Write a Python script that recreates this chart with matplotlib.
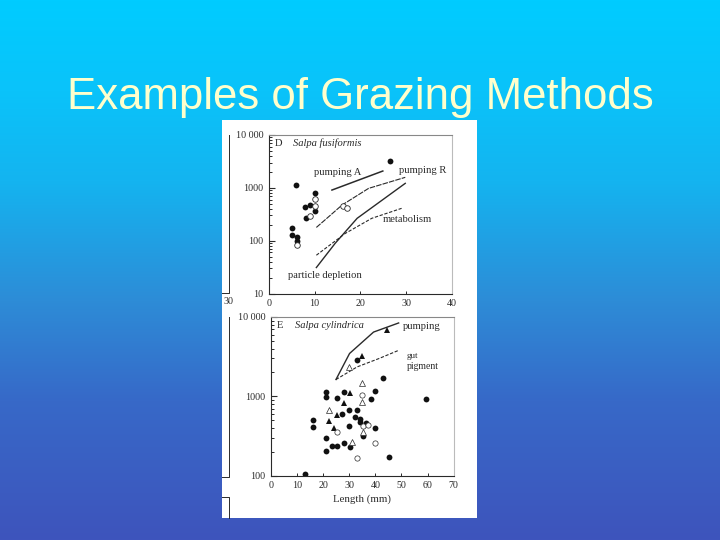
import numpy as np
import matplotlib
matplotlib.use('Agg')
import matplotlib.pyplot as plt
from matplotlib.patches import Rectangle

title_text = 'Examples of Grazing Methods'

# panel D - Salpa fusiformis
d_filled_x = [6, 26.4, 10.2, 8, 9, 10, 8.1, 5.1, 5, 6.2, 6.2]
d_filled_y = [1110, 3170, 785, 440, 472, 368, 268, 173, 127, 116, 100]
d_open_x = [6.2, 9.1, 10.2, 10.2, 16.2, 17.1]
d_open_y = [82, 288, 622, 452, 452, 409]
pump_a_x = [13.8, 24.9]
pump_a_y = [908, 2080]
pump_r_x = [10.4, 13.5, 16, 21.8, 29.8]
pump_r_y = [178, 305, 472, 977, 1580]
depletion_x = [10.4, 14.5, 19.3, 29.8]
depletion_y = [31, 89, 265, 1216]
metab_x = [10.4, 16.7, 22.5, 29]
metab_y = [53, 137, 265, 409]

# panel E - Salpa cylindrica
e_filled_x = [13.1, 16.1, 16.1, 20.9, 20.9, 20.9, 21.2, 23.4, 25.3, 25.3, 28, 29.9, 27.2, 33, 32.2,
              34.1, 34.2, 36.5, 30, 39.8, 35.4, 28.1, 30.3, 45.1, 33, 42.8, 39.8, 38.2, 59.5]
e_filled_y = [104, 501, 413, 1140, 985, 295, 202, 238, 238, 966, 1130, 676, 597, 676, 557,
              511, 478, 464, 421, 394, 318, 255, 227, 170, 2850, 1690, 1160, 920, 930]
e_tri_x = [44.3, 34.9, 30.1, 28, 25.2, 22.1, 24.3]
e_tri_y = [6790, 3200, 1090, 813, 575, 491, 394]
e_otri_x = [29.9, 35, 35, 22.1, 31.2, 35.4]
e_otri_y = [2350, 1480, 860, 682, 265, 357]
e_open_x = [35, 35.4, 37.2, 40, 33, 25.3]
e_open_y = [1050, 427, 430, 255, 168, 351]
pump_x = [24.9, 30.1, 39.3, 48.9]
pump_y = [1630, 3470, 6460, 8410]
gut_x = [24.9, 33, 41.3, 48.9]
gut_y = [1630, 2350, 2990, 3800]

W, H = 720, 540
INK = '#2a2a2a'


def px_axes(x0, y0, x1, y1, **kw):
    # pixel box, y measured from the top of the picture
    return fig.add_axes([x0 / W, 1 - y1 / H, (x1 - x0) / W, (y1 - y0) / H], **kw)


def style_panel(ax, xticks, yticks, ylabels):
    ax.set_yscale('log')
    ax.set_xticks(xticks)
    ax.set_yticks(yticks)
    ax.set_yticklabels(ylabels)
    ax.tick_params(axis='x', which='major', direction='in', length=2, width=0.7,
                   labelsize=7.2, colors=INK, pad=4)
    ax.tick_params(axis='y', which='major', direction='in', length=4, width=0.8,
                   labelsize=7.2, colors=INK, pad=4)
    ax.tick_params(axis='y', which='minor', direction='in', length=2.5, width=0.7, colors=INK)
    ax.minorticks_on()
    ax.tick_params(axis='x', which='minor', length=0)
    ax.patch.set_alpha(0)
    for s in ax.spines.values():
        s.set_linewidth(0.8)
        s.set_color(INK)
    ax.spines['top'].set_color('#888888')
    ax.spines['right'].set_color('#bbbbbb')
    for lab in ax.get_xticklabels() + ax.get_yticklabels():
        lab.set_family('Liberation Serif')


def serif(ax, x, y, s, size=7.6, **kw):
    ax.text(x, y, s, fontsize=size, family='Liberation Serif', color=INK, **kw)


fig = plt.figure(figsize=(W / 100, H / 100), dpi=100)

# blue gradient background
bg = px_axes(0, 0, W, H)
rows = np.arange(H)
stops = [0, 90, 180, 300, 400, 539]
red = [0, 10, 20, 45, 55, 62]
green = [204, 195, 180, 140, 105, 84]
blue = [255, 250, 240, 215, 200, 188]
grad = np.stack([np.interp(rows, stops, c) for c in (red, green, blue)], axis=1)[:, None, :] / 255
bg.imshow(grad, aspect='auto', extent=[0, W, H, 0])
bg.set_xlim(0, W)
bg.set_ylim(H, 0)
bg.axis('off')
bg.text(360, 97, title_text, ha='center', va='center', fontsize=31.5,
        family='Liberation Sans', color='#ffffcc')

# scanned page and the cut off panels at its left edge
bg.add_patch(Rectangle((222, 120), 255, 398, fc='white', ec='none'))
bg.plot([229, 229, 222], [135, 293, 293], color=INK, lw=0.7)
bg.plot([229, 229, 222], [317, 477, 477], color=INK, lw=0.7)
bg.plot([222, 229, 229], [497, 497, 518], color=INK, lw=0.7)
bg.text(228, 302, '30', ha='center', va='center', fontsize=7.2,
        family='Liberation Serif', color=INK)

# panel D
ax1 = px_axes(268.7, 135, 452, 293.5)
ax1.plot(pump_a_x, pump_a_y, color=INK, lw=1.1)
ax1.plot(pump_r_x, pump_r_y, color=INK, lw=0.8, ls=(0, (5, 1)))
ax1.plot(depletion_x, depletion_y, color=INK, lw=1.0)
ax1.plot(metab_x, metab_y, color=INK, lw=0.8, ls=(0, (3, 1.5)))
ax1.plot(d_filled_x, d_filled_y, 'o', color='#111111', ms=4.2, mew=0)
ax1.plot(d_open_x, d_open_y, 'o', mfc='white', mec=INK, ms=4, mew=0.6)
ax1.set_xlim(0, 40)
ax1.set_ylim(10, 10000)
style_panel(ax1, [0, 10, 20, 30, 40], [10, 100, 1000, 10000], ['10', '100', '1000', '10 000'])
serif(ax1, 1.3, 6300, 'D')
serif(ax1, 5.3, 6300, 'Salpa fusiformis', style='italic')
serif(ax1, 9.9, 1750, 'pumping A')
serif(ax1, 28.4, 1900, 'pumping R')
serif(ax1, 24.9, 225, 'metabolism')
serif(ax1, 4.2, 20, 'particle depletion')

# panel E
ax2 = px_axes(271, 317, 453.7, 475.7)
ax2.plot(pump_x, pump_y, color=INK, lw=1.0)
ax2.plot(gut_x, gut_y, color=INK, lw=0.8, ls=(0, (3, 1.5)))
ax2.plot(e_filled_x, e_filled_y, 'o', color='#111111', ms=4.2, mew=0)
ax2.plot(e_tri_x, e_tri_y, '^', color='#111111', ms=4.2, mew=0)
ax2.plot(e_otri_x, e_otri_y, '^', mfc='white', mec=INK, ms=4, mew=0.5)
ax2.plot(e_open_x, e_open_y, 'o', mfc='white', mec=INK, ms=3.8, mew=0.5)
ax2.set_xlim(0, 70)
ax2.set_ylim(100, 10000)
style_panel(ax2, list(range(0, 71, 10)), [100, 1000, 10000], ['100', '1000', '10 000'])
serif(ax2, 2.3, 7200, 'E')
serif(ax2, 9.3, 7200, 'Salpa cylindrica', style='italic')
serif(ax2, 50.5, 7000, 'pumping')
serif(ax2, 52, 3000, 'gut', size=6.6)
serif(ax2, 52, 2200, 'pigment', size=7)
ax2.set_xlabel('Length (mm)', fontsize=7.8, family='Liberation Serif', color=INK, labelpad=3)

fig.savefig('out.png', dpi=100)
